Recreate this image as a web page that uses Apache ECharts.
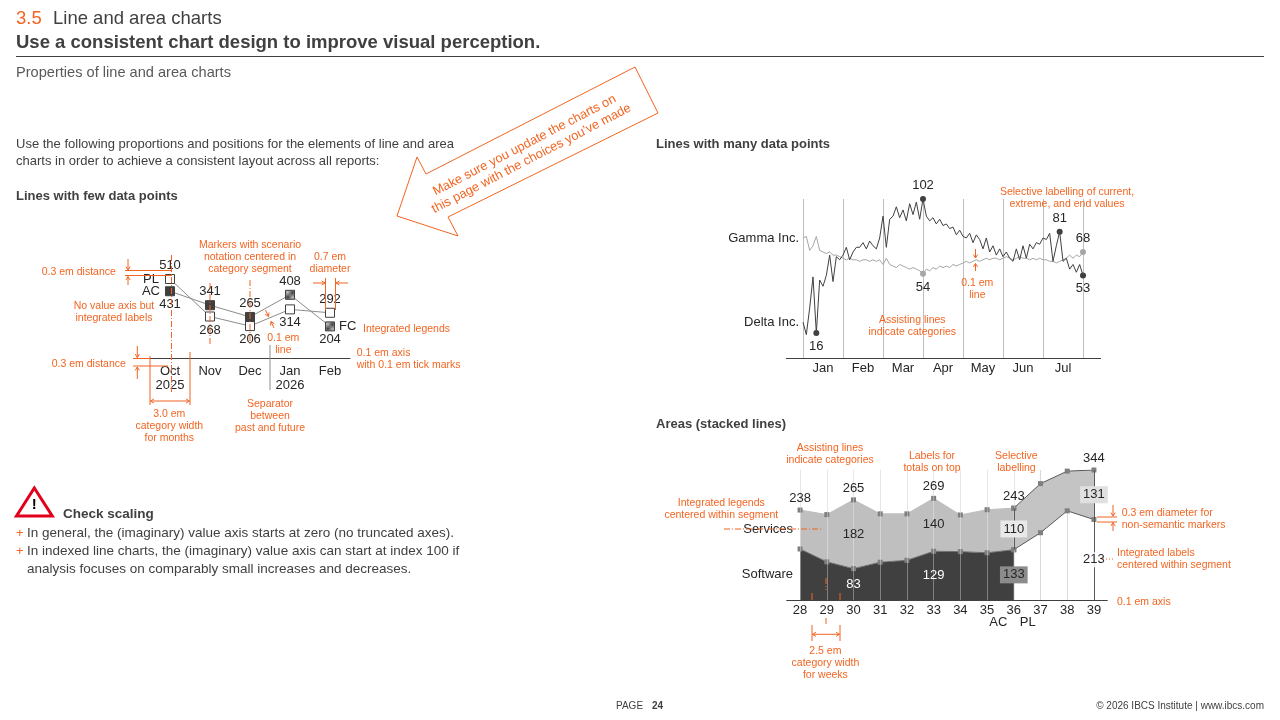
<!DOCTYPE html>
<html>
<head>
<meta charset="utf-8">
<script src="https://cdn.jsdelivr.net/npm/echarts@6/dist/echarts.min.js"></script>
<style>
  html, body { margin: 0; padding: 0; background: #fff; }
  #main { width: 1280px; height: 720px; }
</style>
</head>
<body>
<div id="main"></div>
<script>
// ---- lines with few data points
const fewMonths = ["Oct\n2025", "Nov", "Dec", "Jan\n2026", "Feb"];
const fewPL = [510, 268, 206, 314, 292];
const fewACFC = [431, 341, 265, 408, 204];
const fewScenario = ["AC", "AC", "AC", "FC", "FC"];

// ---- lines with many data points (12 points per month)
const manyMonths = ["Jan", "Feb", "Mar", "Apr", "May", "Jun", "Jul"];
const gamma = [
  77, 78, 69, 72, 78, 69, 68, 67, 68, 66, 66, 65, 64,
  63, 64, 63, 63, 62, 63, 63, 62, 63, 62, 63, 60,
  64, 60, 59, 58, 60, 59, 58, 57, 58, 57, 56, 54,
  57, 56, 58, 57, 59, 58, 59, 58, 60, 59, 60, 61,
  62, 61, 62, 63, 62, 63, 64, 63, 64, 64, 63, 64,
  65, 64, 63, 64, 65, 64, 64, 63, 64, 63, 64, 63,
  63, 62, 62, 61, 62, 63, 64, 66, 64, 66, 65, 68
];
const delta = [
  23, 15, 32, 52, 16, 50, 46, 53, 66, 49, 65, 63, 66,
  71, 63, 68, 71, 71, 74, 70, 75, 72, 70, 77, 91,
  71, 89, 91, 97, 90, 95, 88, 99, 92, 100, 89, 102,
  91, 88, 90, 86, 89, 85, 86, 83, 84, 79, 82, 78,
  77, 80, 74, 79, 76, 70, 77, 68, 72, 66, 70, 65,
  68, 64, 62, 70, 63, 72, 64, 73, 70, 74, 73, 77,
  76, 80, 62, 72, 81, 62, 64, 57, 60, 55, 60, 53
];
const gammaMarked = [36, 84];
const deltaMarked = [4, 36, 77, 84];

// ---- areas (stacked lines)
const weeks = ["28", "29", "30", "31", "32", "33", "34", "35", "36", "37", "38", "39"];
const software = [135, 101, 83, 100, 105, 129, 128, 125, 133, 178, 236, 213];
const services = [103, 125, 182, 128, 123, 140, 97, 114, 110, 130, 105, 131];
const actualWeeks = 9;           // weeks 28..36 are actuals, the rest is plan
const segLabelled = [2, 5, 8, 11];
const totalLabelled = [0, 2, 5, 8, 11];
const segmentNames = ["Software", "Services"];

const FONT = '"Liberation Sans", Arial, sans-serif';
const ORANGE = "#F26522";
const INK = "#404040";
const NUM = "#262626";

const total = software.map((v, i) => v + services[i]);
const isAC = i => i < actualWeeks;
const isPL = i => i >= actualWeeks - 1;

const hatch = (function () {
  const c = document.createElement("canvas");
  c.width = 3; c.height = 3;
  const g = c.getContext("2d");
  g.fillStyle = "#b4b4b4"; g.fillRect(0, 0, 3, 3);
  g.fillStyle = "#3a3a3a";
  g.fillRect(0, 2, 1, 1); g.fillRect(1, 1, 1, 1); g.fillRect(2, 0, 1, 1);
  return c;
})();

function text(x, y, s, o) {
  o = o || {};
  const size = o.size || 12;
  return {
    type: "text", x: x, y: y, z: 100, silent: true, rotation: o.rot || 0,
    style: {
      text: s, fill: o.color || INK,
      font: (o.bold ? "bold " : "") + size + "px " + FONT,
      align: o.align || "left", verticalAlign: "middle",
      lineHeight: o.lh || size
    }
  };
}
function note(x, y, s, align) {
  return text(x, y, s, { color: ORANGE, size: 10.5, lh: 12, align: align || "center" });
}
function seg(x1, y1, x2, y2, o) {
  o = o || {};
  return {
    type: "line", z: 100, silent: true, shape: { x1: x1, y1: y1, x2: x2, y2: y2 },
    style: { stroke: o.color || ORANGE, lineWidth: o.w || 1, lineDash: o.dash || null }
  };
}
function arrow(x1, y1, x2, y2) {
  const a = Math.atan2(y2 - y1, x2 - x1), h = 4, s = 0.55;
  return [seg(x1, y1, x2, y2), {
    type: "polyline", z: 100, silent: true,
    shape: { points: [[x2 - h * Math.cos(a - s), y2 - h * Math.sin(a - s)], [x2, y2], [x2 - h * Math.cos(a + s), y2 - h * Math.sin(a + s)]] },
    style: { stroke: ORANGE, lineWidth: 1, fill: null }
  }];
}
const DD = [6, 2, 1, 2];

const lbl = { show: true, fontSize: 13, color: NUM, fontFamily: FONT };

let g = [];
// header
g.push(text(16, 19, "3.5", { color: ORANGE, size: 18.5 }));
g.push(text(53, 19, "Line and area charts", { size: 18.5 }));
g.push(text(16, 42.5, "Use a consistent chart design to improve visual perception.", { size: 18.5, bold: true }));
g.push(seg(16, 56.5, 1264, 56.5, { color: INK }));
g.push(text(16, 73, "Properties of line and area charts", { size: 14.6, color: "#595959" }));
g.push(text(16, 152.5, "Use the following proportions and positions for the elements of line and area\ncharts in order to achieve a consistent layout across all reports:", { size: 13, lh: 17 }));
g.push(text(16, 196, "Lines with few data points", { size: 13, bold: true }));
g.push(text(656, 144, "Lines with many data points", { size: 13, bold: true }));
g.push(text(656, 424, "Areas (stacked lines)", { size: 13, bold: true }));

// arrow banner
g.push({
  type: "polygon", z: 90, silent: true,
  shape: { points: [[635, 67], [658, 113], [448, 217], [458, 236], [397, 216], [417, 157], [426, 174]] },
  style: { fill: "#fff", stroke: ORANGE, lineWidth: 1 }
});
g.push(text(528, 152, "Make sure you update the charts on\nthis page with the choices you\u2019ve made",
  { color: ORANGE, size: 12.8, lh: 15, align: "center", rot: 27.5 * Math.PI / 180 }));

// check scaling
g.push({
  type: "polygon", z: 100, silent: true,
  shape: { points: [[34.3, 488], [16.5, 516], [52.3, 516]] },
  style: { fill: "#fff", stroke: "#e2001a", lineWidth: 3 }
});
g.push(text(34.3, 505, "!", { size: 15, bold: true, color: "#000", align: "center" }));
g.push(text(63, 514, "Check scaling", { size: 13.5, bold: true }));
g.push(text(16, 533, "+", { size: 13, color: ORANGE }));
g.push(text(27, 533, "In general, the (imaginary) value axis starts at zero (no truncated axes).", { size: 13.5 }));
g.push(text(16, 551, "+", { size: 13, color: ORANGE }));
g.push(text(27, 560, "In indexed line charts, the (imaginary) value axis can start at index 100 if\nanalysis focuses on comparably small increases and decreases.", { size: 13.5, lh: 18 }));

// footer
g.push(text(616, 706, "PAGE", { size: 10 }));
g.push(text(652, 706, "24", { size: 10, bold: true }));
g.push(text(1264, 706, "\u00a9 2026 IBCS Institute | www.ibcs.com", { size: 10, align: "right" }));

// notes: few data points
g.push(note(41.7, 272, "0.3 em distance", "left"));
g.push(seg(125, 270.5, 172, 270.5), seg(125, 275.5, 172, 275.5));
g.push(...arrow(128, 259, 128, 270), ...arrow(128, 285, 128, 276.5));
g.push(note(114, 312, "No value axis but\nintegrated labels"));
g.push(note(250, 257, "Markers with scenario\nnotation centered in\ncategory segment"));
g.push(note(330, 263, "0.7 em\ndiameter"));
g.push(...arrow(313, 283, 325, 283), ...arrow(348, 283, 336, 283));
g.push(seg(325.5, 278, 325.5, 310), seg(335.5, 278, 335.5, 310));
g.push(seg(171.5, 255, 171.5, 392, { dash: DD }), seg(210, 283, 210, 346, { dash: DD }), seg(250, 280, 250, 346, { dash: DD }));
g.push(note(283.3, 344, "0.1 em\nline"));
g.push(...arrow(265.5, 310, 268.5, 316.5), ...arrow(274, 328, 271, 321.5));
g.push(note(363, 329, "Integrated legends", "left"));
g.push(note(356.7, 359, "0.1 em axis\nwith 0.1 em tick marks", "left"));
g.push(note(51.7, 364.3, "0.3 em distance", "left"));
g.push(seg(133, 358.5, 150, 358.5), seg(133, 366, 168, 366));
g.push(...arrow(137.3, 346, 137.3, 357.5), ...arrow(137.3, 379, 137.3, 367));
g.push(seg(150, 356, 150, 405), seg(190, 352, 190, 405));
g.push(...arrow(170, 401, 150.5, 401), ...arrow(170, 401, 189.5, 401));
g.push(note(169.3, 426, "3.0 em\ncategory width\nfor months"));
g.push(note(270, 416.5, "Separator\nbetween\npast and future"));
g.push(seg(270, 345, 270, 390, { color: "#8c8c8c" }));

// notes: many data points
g.push(seg(786, 358.5, 1101, 358.5, { color: INK }));
g.push(note(1067, 198.5, "Selective labelling of current,\nextreme, and end values"));
g.push(note(977.3, 289, "0.1 em\nline"));
g.push(...arrow(975.5, 249, 975.5, 258), ...arrow(975.5, 271, 975.5, 263.5));
g.push(note(912.3, 326.5, "Assisting lines\nindicate categories"));

// notes: areas
g.push(note(830, 454.5, "Assisting lines\nindicate categories"));
g.push(note(932, 462, "Labels for\ntotals on top"));
g.push(note(1016.4, 462, "Selective\nlabelling"));
g.push(note(721.3, 509, "Integrated legends\ncentered within segment"));
g.push(seg(724, 529, 822, 529, { dash: DD }));
g.push(note(1121.7, 519, "0.3 em diameter for\nnon-semantic markers", "left"));
g.push(...arrow(1113, 505, 1113, 516), ...arrow(1113, 531, 1113, 522.5));
g.push(seg(1097, 517, 1117, 517), seg(1097, 522, 1117, 522));
g.push(note(1117, 559.5, "Integrated labels\ncentered within segment", "left"));
g.push(seg(1103, 559, 1113, 559, { dash: [1, 2] }));
g.push(note(1117, 602, "0.1 em axis", "left"));
g.push(note(825.4, 663.3, "2.5 em\ncategory width\nfor weeks"));
g.push(seg(812, 593, 812, 600), seg(812, 625, 812, 641), seg(840, 593, 840, 600), seg(840, 625, 840, 641));
g.push(...arrow(826, 634.3, 812.5, 634.3), ...arrow(826, 634.3, 839.5, 634.3));
g.push(seg(826, 578, 826, 590, { dash: DD }), seg(826, 618, 826, 626, { dash: DD }));
g.push(text(998.4, 622.7, "AC", { size: 13, color: NUM, align: "center" }));
g.push(text(1027.7, 622.7, "PL", { size: 13, color: NUM, align: "center" }));

// ---- series
function mp(coord, name, label, size) {
  return { coord: coord, name: String(name), symbolSize: size || 0, label: label || {} };
}

const series = [];

// few data points
series.push({
  type: "line", name: "PL", xAxisIndex: 0, yAxisIndex: 0, z: 3,
  data: fewPL.map((v, i) => ({ value: v, label: { position: v > fewACFC[i] ? "top" : "bottom" } })),
  symbol: "rect", symbolSize: 9,
  lineStyle: { color: "#8c8c8c", width: 1 },
  itemStyle: { color: "#fff", borderColor: INK, borderWidth: 1 },
  label: Object.assign({ distance: 2 }, lbl),
  emphasis: { disabled: true },
  markPoint: {
    symbol: "rect", silent: true, label: Object.assign({ formatter: "{b}" }, lbl),
    data: [mp([0, fewPL[0]], "PL", { position: "left", distance: 11 })]
  }
});
series.push({
  type: "line", name: "AC/FC", xAxisIndex: 0, yAxisIndex: 0, z: 3,
  data: fewACFC.map((v, i) => ({
    value: v,
    itemStyle: { color: fewScenario[i] === "FC" ? { image: hatch, repeat: "repeat" } : INK },
    label: { position: v > fewPL[i] ? "top" : "bottom" }
  })),
  symbol: "rect", symbolSize: 9,
  lineStyle: { color: "#8c8c8c", width: 1 },
  itemStyle: { borderColor: INK, borderWidth: 1 },
  label: Object.assign({ distance: 2 }, lbl),
  emphasis: { disabled: true },
  markPoint: {
    symbol: "rect", silent: true, label: Object.assign({ formatter: "{b}" }, lbl),
    data: [
      mp([0, fewACFC[0]], fewScenario[0], { position: "left", distance: 10 }),
      mp([fewACFC.length - 1, fewACFC[fewACFC.length - 1]], fewScenario[fewScenario.length - 1], { position: "right", distance: 9 })
    ]
  }
});

// many data points
function manySeries(name, vals, other, marked, color) {
  return {
    type: "line", name: name, xAxisIndex: 1, yAxisIndex: 1,
    data: vals.map((v, i) => [i, v]),
    symbol: "none", lineStyle: { color: color, width: 1 },
    emphasis: { disabled: true }, silent: true,
    markPoint: {
      symbol: "circle", silent: true, itemStyle: { color: color },
      label: Object.assign({ formatter: "{b}", distance: 4 }, lbl),
      data: marked.map(i => mp([i, vals[i]], vals[i], { position: vals[i] > other[i] ? "top" : "bottom" }, 6))
        .concat([mp([0, vals[0]], name, { position: "left", distance: 4 })])
    }
  };
}
series.push(manySeries("Gamma Inc.", gamma, delta, gammaMarked, "#a6a6a6"));
series.push(manySeries("Delta Inc.", delta, gamma, deltaMarked, "#404040"));

// areas
const sq = { symbol: "rect", symbolSize: 5, xAxisIndex: 3, yAxisIndex: 2, emphasis: { disabled: true }, silent: true };
series.push(Object.assign({}, sq, {
  type: "line", name: segmentNames[0] + " AC", stack: "ac",
  data: software.map((v, i) => isAC(i) ? v : "-"),
  itemStyle: { color: "#7f7f7f" },
  lineStyle: { color: "#6e6e6e", width: 1 },
  areaStyle: { color: "#404040", opacity: 1 },
  markLine: {
    z: 1, silent: true, symbol: ["none", "none"], label: { show: false },
    lineStyle: { color: "#d9d9d9", width: 1, type: "solid" },
    data: weeks.map((w, i) => ({ xAxis: i }))
  }
}));
series.push(Object.assign({}, sq, {
  type: "line", name: segmentNames[1] + " AC", stack: "ac",
  data: services.map((v, i) => isAC(i) ? v : "-"),
  itemStyle: { color: "#7f7f7f" },
  lineStyle: { color: "#bfbfbf", width: 1 },
  areaStyle: { color: "#bfbfbf", opacity: 1 },
  markLine: {
    z: 4, silent: true, symbol: ["none", "none"], label: { show: false },
    lineStyle: { color: "rgba(255,255,255,0.35)", width: 1, type: "solid" },
    data: weeks.filter((w, i) => isAC(i)).map((w, i) => ({ xAxis: i }))
  }
}));
series.push(Object.assign({}, sq, {
  type: "line", name: segmentNames[0] + " PL", stack: "pl",
  data: software.map((v, i) => isPL(i) ? v : "-"),
  itemStyle: { color: "#7f7f7f" },
  lineStyle: { color: "#595959", width: 1 }
}));

const segMarks = [];
segLabelled.forEach(i => {
  let sv = { color: NUM }, sw = { color: "#fff" };
  if (i === actualWeeks - 1) {
    sv = { color: NUM, backgroundColor: "#e9e9e9", padding: [2, 3] };
    sw = { color: NUM, backgroundColor: "#8c8c8c", padding: [2, 3] };
  } else if (i >= actualWeeks) {
    sv = { color: NUM, backgroundColor: "#e0e0e0", padding: [2, 3] };
    sw = { color: NUM, backgroundColor: "rgba(255,255,255,0.85)", padding: [1, 1] };
  }
  segMarks.push(mp([i, software[i] + services[i] / 2], services[i], sv));
  segMarks.push(mp([i, software[i] / 2], software[i], sw));
});
totalLabelled.forEach(i => segMarks.push(mp([i, total[i]], total[i], { position: "top", distance: 5 })));
segMarks.push(mp([0, software[0] + services[0] / 2], segmentNames[1], { position: "left", distance: 7 }));
segMarks.push(mp([0, software[0] / 2], segmentNames[0], { position: "left", distance: 7 }));

const last = weeks.length - 1;
series.push(Object.assign({}, sq, {
  type: "line", name: segmentNames[1] + " PL", stack: "pl",
  data: services.map((v, i) => isPL(i) ? v : "-"),
  itemStyle: { color: "#7f7f7f" },
  lineStyle: { color: "#595959", width: 1 },
  areaStyle: { color: "#c4c4c4", opacity: 1 },
  markLine: {
    z: 4, silent: true, symbol: ["none", "none"], label: { show: false },
    lineStyle: { color: "#595959", width: 1, type: "solid" },
    data: [
      [{ coord: [actualWeeks - 1, software[actualWeeks - 1]] }, { coord: [actualWeeks - 1, total[actualWeeks - 1]] }],
      [{ coord: [last, 0] }, { coord: [last, total[last]] }]
    ]
  },
  markPoint: {
    symbol: "rect", silent: true, z: 6,
    label: Object.assign({ formatter: "{b}" }, lbl),
    data: segMarks
  }
}));

const chart = echarts.init(document.getElementById("main"));
chart.setOption({
  animation: false,
  backgroundColor: "#fff",
  textStyle: { fontFamily: FONT },
  grid: [
    { left: 150, top: 279, width: 200, height: 79, outerBoundsMode: "none" },
    { left: 803, top: 199, width: 280, height: 159, outerBoundsMode: "none" },
    { left: 786.7, top: 470, width: 320.6, height: 130, outerBoundsMode: "none" }
  ],
  xAxis: [
    {
      type: "category", gridIndex: 0, data: fewMonths, boundaryGap: true, position: "bottom",
      axisLine: { lineStyle: { color: INK, width: 1 } },
      axisTick: { alignWithLabel: true, length: 4, lineStyle: { color: INK } },
      axisLabel: { interval: 0, fontSize: 13, color: NUM, margin: 6, lineHeight: 14, fontFamily: FONT },
      splitLine: { show: false }
    },
    {
      type: "value", gridIndex: 1, min: 0, max: delta.length - 1, interval: 12, position: "bottom",
      axisLine: { show: false }, axisTick: { show: false }, axisLabel: { show: false },
      splitLine: { show: true, lineStyle: { color: "#bfbfbf", width: 1 } }
    },
    {
      type: "category", gridIndex: 1, data: manyMonths, boundaryGap: true, position: "bottom",
      axisLine: { show: false }, axisTick: { show: false },
      axisLabel: { interval: 0, fontSize: 13, color: NUM, margin: 4, fontFamily: FONT },
      splitLine: { show: false }
    },
    {
      type: "category", gridIndex: 2, data: weeks, boundaryGap: true, position: "bottom",
      axisLine: { lineStyle: { color: INK, width: 1 } }, axisTick: { show: false },
      axisLabel: { interval: 0, fontSize: 13, color: NUM, margin: 4, fontFamily: FONT },
      splitLine: { show: false }
    }
  ],
  yAxis: [
    { type: "value", gridIndex: 0, min: 0, max: Math.max(...fewPL, ...fewACFC), show: false },
    { type: "value", gridIndex: 1, min: 0, max: Math.max(...delta, ...gamma), show: false },
    { type: "value", gridIndex: 2, min: 0, max: Math.max(...total), show: false }
  ],
  series: series,
  graphic: { elements: g }
});
</script>
</body>
</html>
